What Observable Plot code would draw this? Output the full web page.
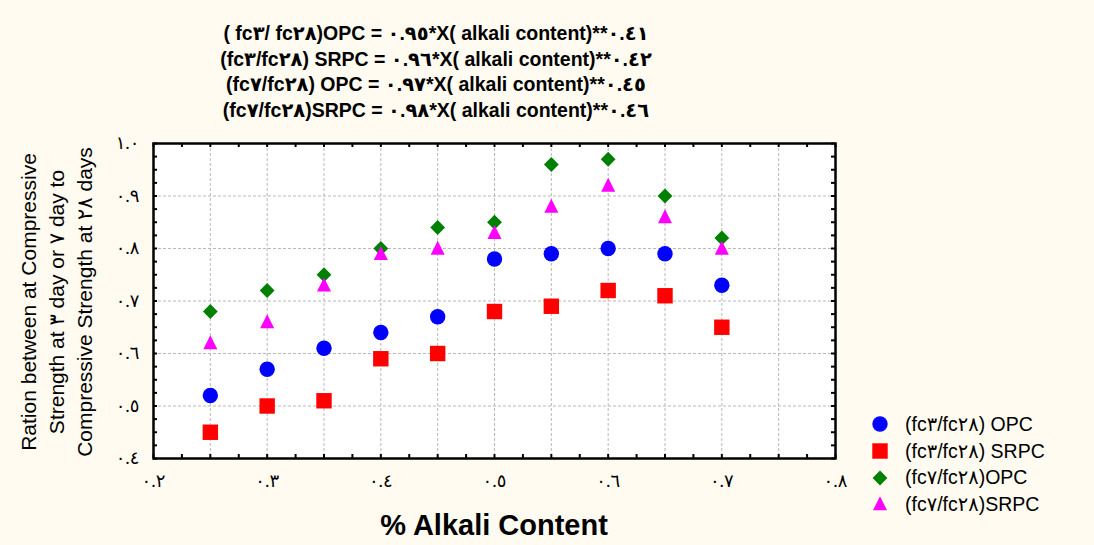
<!DOCTYPE html>
<html>
<head>
<meta charset="utf-8">
<script src="https://cdn.jsdelivr.net/npm/d3@7"></script>
<script src="https://cdn.jsdelivr.net/npm/@observablehq/plot@0.6"></script>
<style>
  html, body { margin: 0; padding: 0; background: #fffbf0; }
  #wrap { position: relative; width: 1094px; height: 545px; background: #fffbf0; overflow: hidden;
          font-family: "Liberation Sans", Arial, "DejaVu Sans", sans-serif; color: #000; }
  #chart { position: absolute; left: 0; top: 0; }
  #title { position: absolute; left: 0; top: 21px; width: 872px; text-align: center;
           font-weight: bold; font-size: 19.5px; line-height: 25.7px; white-space: nowrap; }
  #ylabel { position: absolute; left: 57px; top: 302px; width: 360px; text-align: center;
            font-size: 21px; line-height: 28px; white-space: nowrap;
            transform: translate(-50%, -50%) rotate(-90deg); }
  #xlabel { position: absolute; left: 494px; top: 525px; transform: translate(-50%, -50%);
            font-weight: bold; font-size: 29px; white-space: nowrap; }
  #legend { position: absolute; left: 870px; top: 411px; font-size: 19.5px; }
  .lrow { display: flex; align-items: center; height: 26.7px; white-space: nowrap; }
  .lrow svg { width: 20px; height: 20px; margin-right: 15px; }
</style>
</head>
<body>
<div id="wrap">
  <div id="chart"></div>
  <div id="title"></div>
  <div id="ylabel"></div>
  <div id="xlabel"></div>
  <div id="legend"></div>
</div>
<script>
// ---- data ----
const alkali = [0.25, 0.30, 0.35, 0.40, 0.45, 0.50, 0.55, 0.60, 0.65, 0.70];
const opc3   = [0.52, 0.57, 0.61, 0.64, 0.67, 0.78, 0.79, 0.80, 0.79, 0.73];
const srpc3  = [0.45, 0.50, 0.51, 0.59, 0.60, 0.68, 0.69, 0.72, 0.71, 0.65];
const opc7   = [0.68, 0.72, 0.75, 0.80, 0.84, 0.85, 0.96, 0.97, 0.90, 0.82];
const srpc7  = [0.62, 0.66, 0.73, 0.79, 0.80, 0.83, 0.88, 0.92, 0.86, 0.80];

const seriesNames  = ["(fc٣/fc٢٨) OPC", "(fc٣/fc٢٨) SRPC", "(fc٧/fc٢٨)OPC", "(fc٧/fc٢٨)SRPC"];
const seriesColors = ["#0000ff", "#ff0000", "#008000", "#ff00ff"];
const seriesShapes = ["circle", "square", "diamond", "triangle"];

const xTicks = [0.2, 0.3, 0.4, 0.5, 0.6, 0.7, 0.8];
const yTicks = [0.4, 0.5, 0.6, 0.7, 0.8, 0.9, 1.0];
const xGrid  = [0.25, 0.3, 0.35, 0.4, 0.45, 0.5, 0.55, 0.6, 0.65, 0.7, 0.75];
const yGrid  = [0.5, 0.6, 0.7, 0.8, 0.9];

const titleLines = [
  "( fc٣/ fc٢٨)OPC = ٠.٩٥*X( alkali content)**٠.٤١",
  "(fc٣/fc٢٨) SRPC = ٠.٩٦*X( alkali content)**٠.٤٢",
  "(fc٧/fc٢٨) OPC = ٠.٩٧*X( alkali content)**٠.٤٥",
  "(fc٧/fc٢٨)SRPC = ٠.٩٨*X( alkali content)**٠.٤٦"
];
const yLabelLines = [
  "Ration between at Compressive",
  "Strength at ٣ day or ٧ day to",
  "Compressive Strength at ٢٨ days"
];
const xLabelText = "% Alkali Content";

// ---- helpers ----
const arabicDigits = "٠١٢٣٤٥٦٧٨٩";
const toArabic = s => String(s).replace(/[0-9]/g, c => arabicDigits[+c]);
const fmt = d => toArabic(d3.format(".1f")(d));

const diamondSym = { draw(ctx, size) { const r = Math.sqrt(size / Math.PI);
  ctx.moveTo(0, -r); ctx.lineTo(r, 0); ctx.lineTo(0, r); ctx.lineTo(-r, 0); ctx.closePath(); } };
const triangleSym = { draw(ctx, size) { const r = Math.sqrt(size / Math.PI);
  ctx.moveTo(0, -r * 1.1); ctx.lineTo(r, r * 0.9); ctx.lineTo(-r, r * 0.9); ctx.closePath(); } };
const symbolFor = { circle: "circle", square: "square", diamond: diamondSym, triangle: triangleSym };
const radiusFor = { circle: 7.7, square: 8.7, diamond: 7.4, triangle: 7.0 };

const seriesValues = [opc3, srpc3, opc7, srpc7];
const table = seriesValues.flatMap((vals, si) =>
  vals.map((v, i) => ({ x: alkali[i], y: v, s: si })));

const xMinor = d3.range(25).map(i => 0.2 + i * 0.025);
const yMinor = d3.range(25).map(i => 0.4 + i * 0.025);

const W = 1094, H = 545, mL = 153, mR = 259, mT = 143, mB = 87;
const fw = W - mL - mR, fh = H - mT - mB;
const tickLen = 4;
const tickFont = '"Liberation Serif", "DejaVu Sans", serif';

const dotMarks = seriesValues.map((vals, si) =>
  Plot.dot(table.filter(d => d.s === si), {
    x: "x", y: "y",
    symbol: () => symbolFor[seriesShapes[si]],
    r: radiusFor[seriesShapes[si]],
    fill: seriesColors[si], stroke: "none"
  }));

const chart = Plot.plot({
  width: W, height: H,
  marginLeft: mL, marginRight: mR, marginTop: mT, marginBottom: mB,
  x: { domain: [0.2, 0.8], label: null },
  y: { domain: [0.4, 1.0], label: null },
  style: { background: "transparent", overflow: "visible" },
  marks: [
    Plot.frame({ fill: "white" }),
    Plot.gridX(xGrid, { stroke: "#b8b8b8", strokeOpacity: 1, strokeDasharray: "3,2" }),
    Plot.gridY(yGrid, { stroke: "#b8b8b8", strokeOpacity: 1, strokeDasharray: "3,2" }),
    Plot.tickX(xMinor, { x: d => d, insetTop: fh - tickLen, stroke: "black", strokeWidth: 2 }),
    Plot.tickX(xMinor, { x: d => d, insetBottom: fh - tickLen, stroke: "black", strokeWidth: 2 }),
    Plot.tickY(yMinor, { y: d => d, insetRight: fw - tickLen, stroke: "black", strokeWidth: 2 }),
    Plot.tickY(yMinor, { y: d => d, insetLeft: fw - tickLen, stroke: "black", strokeWidth: 2 }),
    ...dotMarks,
    Plot.frame({ stroke: "black", strokeWidth: 2.5 }),
    Plot.axisX(xTicks, { anchor: "bottom", tickSize: 0, tickPadding: 16, tickFormat: fmt,
                         fontSize: 18, fontFamily: tickFont, label: null }),
    Plot.axisY(yTicks, { anchor: "left", tickSize: 0, tickPadding: 14, tickFormat: fmt,
                         fontSize: 18, fontFamily: tickFont, label: null })
  ]
});
document.getElementById("chart").appendChild(chart);

// ---- texts ----
document.getElementById("title").innerHTML = titleLines.map(t => `<div>${t}</div>`).join("");
document.getElementById("ylabel").innerHTML = yLabelLines.map(t => `<div>${t}</div>`).join("");
document.getElementById("xlabel").textContent = xLabelText;

// ---- legend ----
const legendSvg = (shape, color) => {
  const p = d3.path();
  const sym = symbolFor[shape];
  const r = radiusFor[shape];
  const size = Math.PI * r * r;
  (typeof sym === "string" ? (shape === "circle" ? d3.symbolCircle : d3.symbolSquare) : sym).draw(p, size);
  return `<svg viewBox="-10 -10 20 20"><path d="${p.toString()}" fill="${color}"/></svg>`;
};
document.getElementById("legend").innerHTML = seriesNames.map((n, i) =>
  `<div class="lrow">${legendSvg(seriesShapes[i], seriesColors[i])}<span>${n}</span></div>`).join("");
</script>
</body>
</html>
